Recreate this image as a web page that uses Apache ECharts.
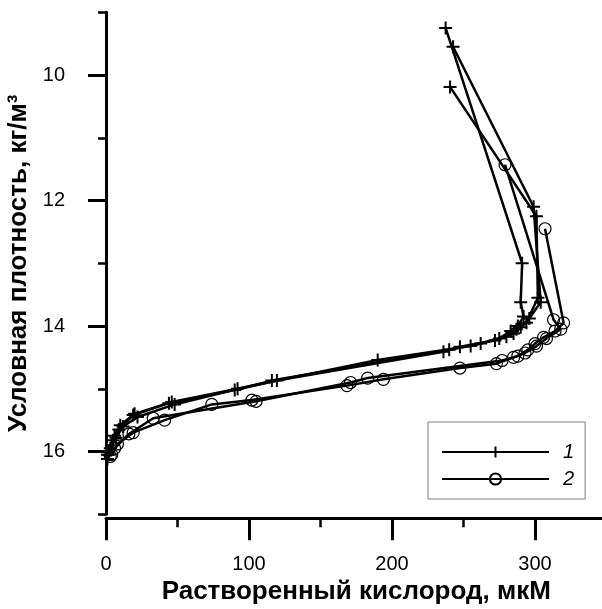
<!DOCTYPE html>
<html><head><meta charset="utf-8">
<script src="https://cdn.jsdelivr.net/npm/echarts@6/dist/echarts.min.js"></script>
<style>html,body{margin:0;padding:0;background:#fff}#c{width:602px;height:609px}</style>
</head><body><div id="c"></div>
<script>
// tick labels
const xMajorTicks = [0, 100, 200, 300];
const yMajorTicks = [10, 12, 14, 16];
// series 1 (+) profiles: [oxygen µM, density]
const profile1a = [[237.5,9.25],[291,13.0],[290,13.62],[292,13.85],[288,14.0],[283,14.08],[275,14.2],[255,14.32],[190,14.54],[92,15.0],[46,15.21],[20,15.4],[10,15.58],[6,15.75],[4,15.9],[2,16.05]];
const profile1b = [[242.7,9.55],[299,12.1],[304,13.62],[296,13.88],[290,14.02],[285,14.12],[272,14.23],[247.5,14.33],[236,14.41],[119.5,14.87],[90,15.02],[44,15.23],[19,15.42],[9,15.65],[5,15.82],[2,16.0],[1,16.12]];
const profile1c = [[240.6,10.19],[301,12.25],[302,13.55],[294,13.95],[287,14.05],[280,14.17],[262,14.28],[240,14.38],[116,14.87],[48,15.25],[22,15.45],[12,15.6],[7,15.78],[3,15.95],[1,16.05]];
// series 2 (o) profiles
const profile2a = [[279,11.43],[313,13.9],[318,14.05],[308,14.2],[301,14.32],[293,14.43],[285,14.5],[273,14.6],[247.5,14.67],[194,14.85],[168.5,14.95],[102,15.18],[74,15.25],[41,15.5],[19,15.7],[8,15.88],[4,16.05]];
const profile2b = [[307,12.45],[320,13.95],[314,14.08],[306,14.18],[300,14.28],[295,14.38],[288,14.48],[277,14.55],[183,14.83],[171,14.9],[105,15.2],[33,15.47],[16,15.72],[6,15.95],[3,16.08]];

const FONT = 'Liberation Sans, Arial, sans-serif';
const plusSym = 'path://M6,0L6,12M0,6L12,6';
function s1(data){return {name:'1',type:'line',data:data,symbol:plusSym,symbolSize:13,
  itemStyle:{color:'#000',borderColor:'#000',borderWidth:2},lineStyle:{color:'#000',width:2.5},z:3};}
function s2(data){return {name:'2',type:'line',data:data,symbol:'circle',symbolSize:12,
  itemStyle:{color:'rgba(0,0,0,0)',borderColor:'#000',borderWidth:1.2},lineStyle:{color:'#000',width:2.5},z:2};}

const chart = echarts.init(document.getElementById('c'), null, {renderer:'canvas'});
chart.setOption({
  animation:false,
  backgroundColor:'#fff',
  grid:{left:106, top:12.25, width:500.5, height:502, containLabel:false, outerBoundsMode:'none'},
  legend:{orient:'vertical', left:428, top:422, padding:[20,11,10,13], itemWidth:107, itemHeight:14, itemGap:7,
    borderColor:'#7f7f7f', borderWidth:1, data:['1','2'],
    textStyle:{fontSize:20, fontStyle:'italic', fontFamily:FONT, color:'#000', padding:[0,0,0,9]}},
  xAxis:[
    {type:'value', min:0, max:350, interval:50, position:'bottom', offset:4,
     axisLine:{show:true, lineStyle:{color:'#000', width:3}},
     axisTick:{show:true, length:9, lineStyle:{color:'#000', width:2.5}},
     axisLabel:{show:false}, splitLine:{show:false}},
    {type:'value', min:0, max:350, position:'bottom', offset:4,
     axisLine:{show:false},
     axisTick:{show:true, length:22, customValues:xMajorTicks, lineStyle:{color:'#000', width:3}},
     axisLabel:{show:true, customValues:xMajorTicks, margin:36, fontSize:20, fontFamily:FONT, color:'#000'},
     splitLine:{show:false},
     name:'Растворенный кислород, мкМ', nameLocation:'middle', nameGap:57,
     nameTextStyle:{fontSize:26, fontWeight:'bold', fontFamily:FONT, color:'#000'}}
  ],
  yAxis:[
    {type:'value', min:9, max:17, interval:1, inverse:true, position:'left', offset:6,
     axisLine:{show:true, lineStyle:{color:'#000', width:3}},
     axisTick:{show:true, length:8, lineStyle:{color:'#000', width:2.5}},
     axisLabel:{show:false}, splitLine:{show:false}},
    {type:'value', min:9, max:17, inverse:true, position:'left', offset:6,
     axisLine:{show:false},
     axisTick:{show:true, length:18, customValues:yMajorTicks, lineStyle:{color:'#000', width:3}},
     axisLabel:{show:true, customValues:yMajorTicks, margin:35, fontSize:20, fontFamily:FONT, color:'#000'},
     splitLine:{show:false},
     name:'Условная плотность, кг/м³', nameLocation:'middle', nameGap:68,
     nameTextStyle:{fontSize:26, fontWeight:'bold', fontFamily:FONT, color:'#000'}}
  ],
  series:[s1(profile1a), s1(profile1b), s1(profile1c), s2(profile2a), s2(profile2b)]
});
</script></body></html>
